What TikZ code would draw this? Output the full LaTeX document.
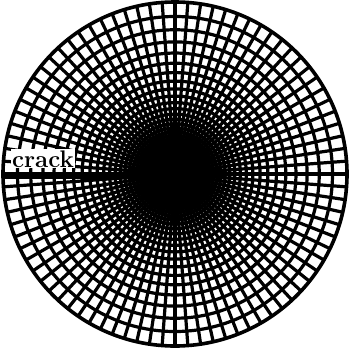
\documentclass[tikz,border=0pt]{standalone}
\usepackage{tikz}
\usetikzlibrary{calc}

\begin{document}
\begin{tikzpicture}[
  x=1pt, y=1pt,
  mesh/.style={line width=3.2pt},
  rim/.style={line width=3.6pt},
  crackline/.style={line width=6.5pt},
  tag/.style={fill=white, inner sep=1pt, font=\fontsize{24}{28}\selectfont\bfseries}]

% ================= frame ==================================================
\useasboundingbox (-175,-175) rectangle (175,174);

\coordinate (tip)   at (0,0);
\coordinate (front) at (0,-2);
\coordinate (mouth) at (-172,-2);

% ================= the polar mesh =========================================
\foreach \k in {1,...,44}
  \draw[mesh] (tip) circle ({172/1.092^\k});
\foreach \a in {0,...,83}
  \draw[mesh] (tip) -- ({360/84*\a}:172);
\draw[rim] (tip) circle (172);

% ================= the crack ==============================================
\draw[crackline] (mouth) -- (front);
\node[tag, anchor=base west] (crack) at (-164,7) {crack};

\end{tikzpicture}
\end{document}
